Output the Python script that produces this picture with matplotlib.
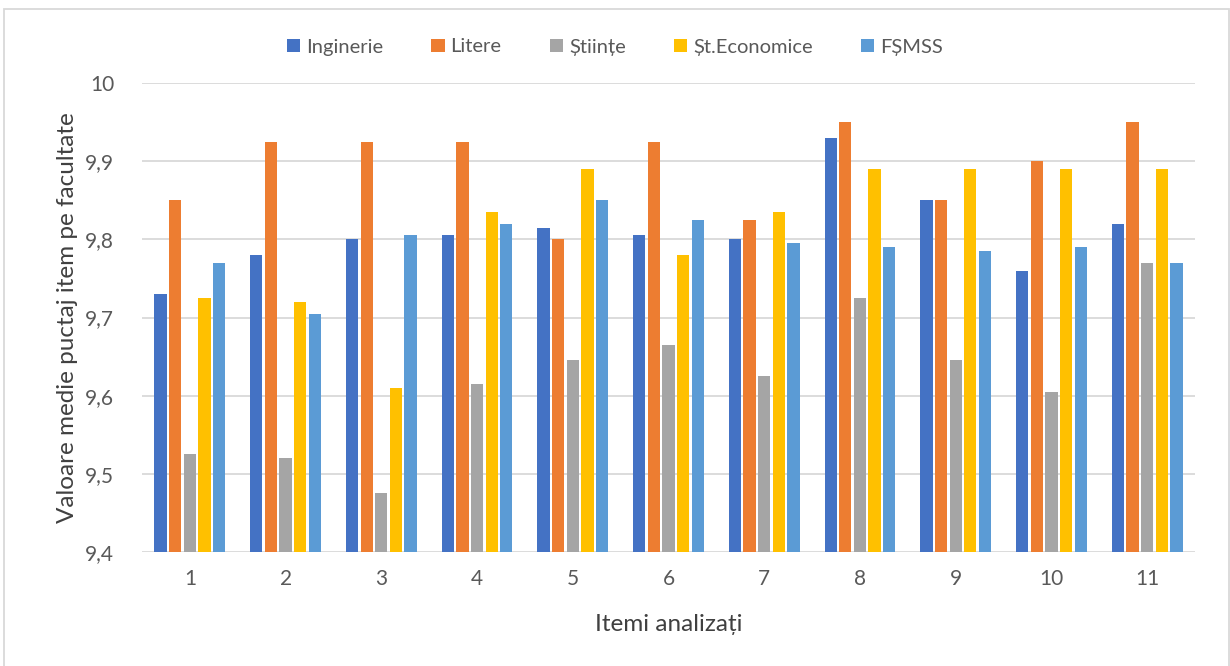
import numpy as np
import matplotlib.pyplot as plt
from matplotlib.patches import Rectangle
from matplotlib.ticker import FuncFormatter

plt.rcParams["font.family"] = ["Lato", "DejaVu Sans"]

items = ["1", "2", "3", "4", "5", "6", "7", "8", "9", "10", "11"]
inginerie = [9.73, 9.78, 9.80, 9.805, 9.815, 9.805, 9.80, 9.93, 9.85, 9.76, 9.82]
litere = [9.85, 9.925, 9.925, 9.925, 9.80, 9.925, 9.825, 9.95, 9.85, 9.90, 9.95]
stiinte = [9.525, 9.52, 9.475, 9.615, 9.645, 9.665, 9.625, 9.725, 9.645, 9.605, 9.77]
st_economice = [9.725, 9.72, 9.61, 9.835, 9.89, 9.78, 9.835, 9.89, 9.89, 9.89, 9.89]
fsmss = [9.77, 9.705, 9.805, 9.82, 9.85, 9.825, 9.795, 9.79, 9.785, 9.79, 9.77]

series = [("Inginerie", inginerie, "#4472C4"),
          ("Litere", litere, "#ED7D31"),
          ("Științe", stiinte, "#A5A5A5"),
          ("Șt.Economice", st_economice, "#FFC000"),
          ("FȘMSS", fsmss, "#5B9BD5")]

TXT = "#595959"
fig = plt.figure(figsize=(12.3, 6.66), dpi=100)
ax = fig.add_axes([142 / 1230, 1 - 552 / 666, 1053 / 1230, 469 / 666])

x = np.arange(len(items))
pitch, width = 0.153, 0.128
for k, (name, vals, col) in enumerate(series):
    ax.bar(x + (k - 2) * pitch, np.array(vals) - 9.4, bottom=9.4, width=width,
           color=col, label=name, zorder=3)

ax.set_xlim(-0.5, len(items) - 0.5)
ax.set_ylim(9.4, 10.0)
ax.set_yticks(np.arange(9.4, 10.01, 0.1))
ax.yaxis.set_major_formatter(FuncFormatter(
    lambda v, p: "10" if abs(v - 10) < 1e-9 else f"{v:.1f}".replace(".", ",")))
ax.set_xticks(x)
ax.set_xticklabels(items)
ax.grid(axis="y", color="#D9D9D9", lw=1.3, zorder=0)
for s in ax.spines.values():
    s.set_visible(False)
ax.tick_params(axis="both", length=0, labelsize=15, colors=TXT)
ax.tick_params(axis="y", pad=20)
ax.tick_params(axis="x", pad=12)
ax.set_ylabel("Valoare medie puctaj item pe facultate", fontsize=17.5, color="#404040")
ax.yaxis.set_label_coords(-0.061, 0.5)
ax.set_xlabel("Itemi analizați", fontsize=17.5, color="#404040", labelpad=18)

ax.legend(loc="center", bbox_to_anchor=(0.5, (666 - 47) / 666), bbox_transform=fig.transFigure,
          ncol=5, frameon=False, fontsize=14.5, handlelength=0.65, handleheight=0.65,
          handletextpad=0.3, columnspacing=2.4, labelcolor=TXT)

fig.patches.append(Rectangle((4 / 1230, -0.02), 1225 / 1230, 1.02 - 9 / 666,
                             transform=fig.transFigure, fill=False,
                             edgecolor="#D9D9D9", lw=1.3))
fig.savefig("out.png", dpi=100)
